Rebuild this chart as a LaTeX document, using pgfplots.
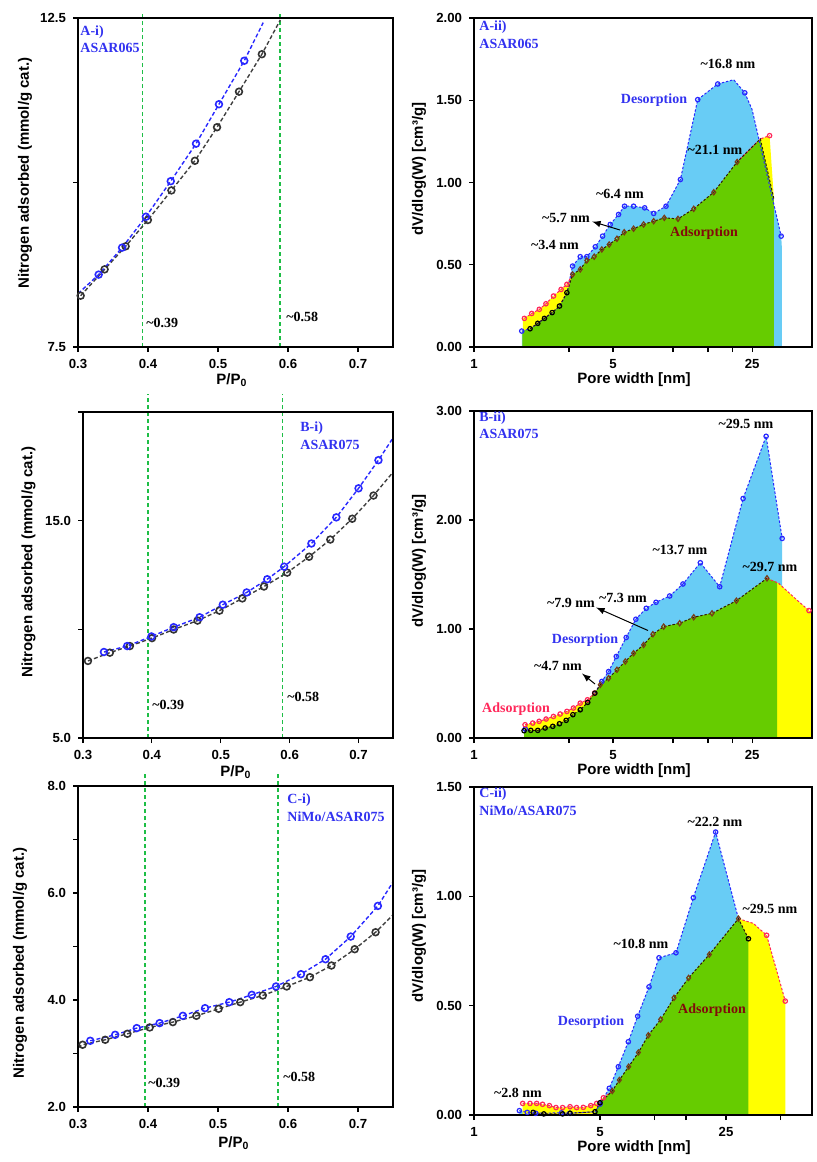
\documentclass[border=0pt]{standalone}
\usepackage{fontspec}
\setmainfont{Liberation Sans}
\newfontfamily\annserif{Liberation Serif}
\usepackage{pgfplots}
\pgfplotsset{compat=1.18}
\definecolor{mblue}{RGB}{40,40,255}
\definecolor{lblue}{RGB}{104,204,245}
\definecolor{lgreen}{RGB}{102,204,0}
\definecolor{lyellow}{RGB}{255,255,0}
\definecolor{mred}{RGB}{255,40,90}
\definecolor{mbrown}{RGB}{120,60,20}
\definecolor{dgreen}{RGB}{30,190,70}
\definecolor{tblue}{RGB}{50,50,240}
\definecolor{dred}{RGB}{130,10,10}
\newcommand{\ann}{\annserif\bfseries\fontsize{7}{8}\selectfont}
\newcommand{\axl}{\bfseries\fontsize{7.5}{8}\selectfont}
\pgfplotsset{
  basep/.style={scale only axis, anchor=south west, axis line style={line width=0.6pt},
    tick pos=left, tick align=outside, major tick length=2.5pt, minor tick length=0pt,
    tick style={black, line width=0.6pt},
    ticklabel style={font=\bfseries\fontsize{6.6}{7}\selectfont}, axis on top},
  lp/.style={basep, width=157.5pt, xmin=0.3, xmax=0.75, xtick={0.3,0.4,0.5,0.6,0.7},
    xticklabels={0.3,0.4,0.5,0.6,0.7}, clip=false},
  rp/.style={basep, width=169pt, ymin=0},
  vline/.style={color=dgreen, line width=0.9pt, dash pattern=on 2pt off 1.5pt},
  bline/.style={color=mblue, line width=0.7pt, dash pattern=on 2pt off 1.2pt},
  kline/.style={color=black!75, line width=0.7pt, dash pattern=on 2pt off 1.2pt},
  bmark/.style={only marks, mark=o, mark size=1.7pt, color=mblue, mark options={line width=0.8pt}},
  kmark/.style={only marks, mark=o, mark size=1.7pt, color=black!80, mark options={line width=0.8pt}},
  bfill/.style={draw=none, fill=lblue},
  yfill/.style={draw=none, fill=lyellow},
  gfill/.style={draw=none, fill=lgreen},
  rbline/.style={color=mblue, line width=0.5pt, dash pattern=on 1.2pt off 0.9pt},
  rrline/.style={color=mred, line width=0.5pt, dash pattern=on 1.2pt off 0.9pt},
  rkline/.style={color=black!60!mbrown, line width=0.5pt, dash pattern=on 1.2pt off 0.9pt},
  rbmark/.style={only marks, mark=o, mark size=1.1pt, color=mblue, mark options={line width=0.6pt}},
  rrmark/.style={only marks, mark=o, mark size=1.1pt, color=mred, mark options={line width=0.6pt}},
  rkmark/.style={only marks, mark=o, mark size=1.1pt, color=black, mark options={line width=0.6pt}},
  rdmark/.style={only marks, mark=diamond, mark size=1.3pt, color=mbrown, mark options={line width=0.6pt}},
}
\begin{document}
\begin{tikzpicture}
\path[use as bounding box] (0,0) rectangle (408.5pt,-581pt);

% ---------------- A-i
\begin{axis}[lp, at={(39pt,-173.5pt)}, height=164.5pt, ymin=7.5, ymax=12.5,
  ytick={7.5,10,12.5}, yticklabels={7.5,,12.5}]
\addplot[vline] coordinates {(0.392,7.5) (0.392,12.576)};
\addplot[vline] coordinates {(0.589,7.5) (0.589,12.576)};
\addplot[kline] coordinates {(0.3038,8.28) (0.338,8.68) (0.368,9.03) (0.3998,9.43) (0.4335,9.88) (0.467,10.33) (0.4986,10.84) (0.530,11.38) (0.5627,11.95) (0.589,12.47)};
\addplot[bline] coordinates {(0.3,8.31) (0.3295,8.60) (0.363,9.01) (0.397,9.48) (0.4325,10.02) (0.4686,10.59) (0.5014,11.19) (0.5375,11.85) (0.5646,12.43)};
\addplot[kmark] coordinates {(0.3038,8.28) (0.338,8.68) (0.368,9.03) (0.3998,9.43) (0.4335,9.88) (0.467,10.33) (0.4986,10.84) (0.530,11.38) (0.5627,11.95)};
\addplot[bmark] coordinates {(0.3295,8.60) (0.363,9.01) (0.397,9.48) (0.4325,10.02) (0.4686,10.59) (0.5014,11.19) (0.5375,11.85)};
\end{axis}

% ---------------- B-i
\begin{axis}[lp, at={(41.5pt,-369pt)}, width=155pt, height=163pt, ymin=5, ymax=20,
  ytick={5,10,15,20}, yticklabels={5.0,,15.0,}]
\addplot[vline] coordinates {(0.3945,5) (0.3945,20.83)};
\addplot[vline] coordinates {(0.5896,5) (0.5896,20.83)};
\addplot[kline] coordinates {(0.3072,8.546) (0.339,8.927) (0.368,9.231) (0.4002,9.597) (0.4316,9.992) (0.4663,10.403) (0.4981,10.86) (0.5313,11.423) (0.5627,11.971) (0.5964,12.61) (0.6282,13.341) (0.659,14.132) (0.6908,15.09) (0.7217,16.157) (0.7487,17.18)};
\addplot[bline] coordinates {(0.3304,8.957) (0.3641,9.231) (0.3993,9.673) (0.4316,10.10) (0.4692,10.556) (0.5029,11.134) (0.5376,11.697) (0.5675,12.306) (0.592,12.884) (0.6316,13.95) (0.6677,15.152) (0.70,16.49) (0.7289,17.785) (0.7487,18.744)};
\addplot[kmark] coordinates {(0.3072,8.546) (0.339,8.927) (0.368,9.231) (0.4002,9.597) (0.4316,9.992) (0.4663,10.403) (0.4981,10.86) (0.5313,11.423) (0.5627,11.971) (0.5964,12.61) (0.6282,13.341) (0.659,14.132) (0.6908,15.09) (0.7217,16.157)};
\addplot[bmark] coordinates {(0.3304,8.957) (0.3641,9.231) (0.3993,9.673) (0.4316,10.10) (0.4692,10.556) (0.5029,11.134) (0.5376,11.697) (0.5675,12.306) (0.592,12.884) (0.6316,13.95) (0.6677,15.152) (0.70,16.49) (0.7289,17.785)};
\end{axis}

% ---------------- C-i
\begin{axis}[lp, at={(39pt,-553.5pt)}, height=160.5pt, ymin=2, ymax=8,
  ytick={2,3,4,5,6,7,8}, yticklabels={2.0,,4.0,,6.0,,8.0}]
\addplot[vline] coordinates {(0.3957,2) (0.3957,8.243)};
\addplot[vline] coordinates {(0.5853,2) (0.5853,8.243)};
\addplot[kline] coordinates {(0.3,3.11) (0.3066,3.164) (0.3389,3.257) (0.3706,3.369) (0.4024,3.487) (0.4355,3.587) (0.4692,3.705) (0.5009,3.836) (0.5318,3.960) (0.564,4.085) (0.5981,4.253) (0.6313,4.427) (0.6621,4.645) (0.6953,4.950) (0.7251,5.267) (0.7498,5.59)};
\addplot[bline] coordinates {(0.3175,3.238) (0.3531,3.350) (0.3839,3.475) (0.4166,3.568) (0.4498,3.705) (0.4815,3.848) (0.5161,3.960) (0.5483,4.097) (0.5829,4.253) (0.6185,4.483) (0.6536,4.763) (0.6896,5.186) (0.7284,5.759) (0.7498,6.20)};
\addplot[kmark] coordinates {(0.3066,3.164) (0.3389,3.257) (0.3706,3.369) (0.4024,3.487) (0.4355,3.587) (0.4692,3.705) (0.5009,3.836) (0.5318,3.960) (0.564,4.085) (0.5981,4.253) (0.6313,4.427) (0.6621,4.645) (0.6953,4.950) (0.7251,5.267)};
\addplot[bmark] coordinates {(0.3175,3.238) (0.3531,3.350) (0.3839,3.475) (0.4166,3.568) (0.4498,3.705) (0.4815,3.848) (0.5161,3.960) (0.5483,4.097) (0.5829,4.253) (0.6185,4.483) (0.6536,4.763) (0.6896,5.186) (0.7284,5.759)};
\end{axis}

% ---------------- A-ii
\begin{axis}[xmode=log, rp, at={(237pt,-173.5pt)}, height=164.5pt, xmin=1, xmax=50, ymax=2,
  xtick={1,3,5,10,15,20,25}, xticklabels={1,,5,,,,25},
  ytick={0,0.5,1,1.5,2}, yticklabels={0.00,0.50,1.00,1.50,2.00}]
\addplot[bfill] coordinates {(1.738,0.097) (1.914,0.111) (2.092,0.144) (2.26,0.174) (2.47,0.209) (2.69,0.249) (2.93,0.330) (3.13,0.492) (3.42,0.549) (3.69,0.549) (4.07,0.609) (4.43,0.674) (4.84,0.745) (5.33,0.806) (5.71,0.856) (6.34,0.856) (7.21,0.846) (8.0,0.812) (9.23,0.856) (10.9,1.018) (13.32,1.504) (16.8,1.599) (20.2,1.625) (22.97,1.545) (25.0,1.443) (35.0,0.674) (35.3,0.6)} \closedcycle;
\addplot[yfill] coordinates {(1.76,0.172) (1.95,0.204) (2.13,0.229) (2.30,0.263) (2.51,0.310) (2.74,0.350) (2.93,0.381) (3.13,0.441) (3.42,0.472) (3.69,0.526) (4.02,0.549) (4.39,0.593) (4.78,0.623) (5.23,0.658) (5.69,0.698) (6.34,0.719) (7.12,0.745) (8.0,0.765) (9.05,0.785) (10.6,0.779) (12.72,0.840) (16.04,0.941) (21.02,1.125) (27.5,1.265) (30.6,1.285) (32.2,0.897)} \closedcycle;
\addplot[gfill] coordinates {(1.75,0.097) (1.914,0.111) (2.092,0.144) (2.26,0.174) (2.47,0.209) (2.69,0.249) (2.93,0.330) (3.13,0.441) (3.42,0.472) (3.69,0.526) (4.02,0.549) (4.39,0.593) (4.78,0.623) (5.23,0.658) (5.69,0.698) (6.34,0.719) (7.12,0.745) (8.0,0.765) (9.05,0.785) (10.6,0.779) (12.72,0.840) (16.04,0.941) (21.02,1.125) (27.5,1.265) (32.2,0.897)} \closedcycle;
\addplot[rbline] coordinates {(1.738,0.097) (1.914,0.111) (2.092,0.144) (2.26,0.174) (2.47,0.209) (2.69,0.249) (2.93,0.330) (3.13,0.492) (3.42,0.549) (3.69,0.549) (4.07,0.609) (4.43,0.674) (4.84,0.745) (5.33,0.806) (5.71,0.856) (6.34,0.856) (7.21,0.846) (8.0,0.812) (9.23,0.856) (10.9,1.018) (13.32,1.504) (16.8,1.599) (20.2,1.625) (22.97,1.545) (25.0,1.443) (35.0,0.674)};
\addplot[rrline] coordinates {(1.792,0.174) (1.95,0.204) (2.13,0.229) (2.30,0.263) (2.51,0.310) (2.74,0.350) (2.93,0.381) (3.13,0.441)};
\addplot[rrline] coordinates {(21.02,1.125) (27.5,1.265) (30.6,1.285)};
\addplot[rkline] coordinates {(1.914,0.111) (2.092,0.144) (2.26,0.174) (2.47,0.209) (2.69,0.249) (2.93,0.330) (3.13,0.441) (3.42,0.472) (3.69,0.526) (4.02,0.549) (4.39,0.593) (4.78,0.623) (5.23,0.658) (5.69,0.698) (6.34,0.719) (7.12,0.745) (8.0,0.765) (9.05,0.785) (10.6,0.779) (12.72,0.840) (16.04,0.941) (21.02,1.125) (27.5,1.265) (32.2,0.897)};
\addplot[rbmark] coordinates {(1.738,0.097) (3.13,0.492) (3.42,0.549) (3.69,0.549) (4.07,0.609) (4.43,0.674) (4.84,0.745) (5.33,0.806) (5.71,0.856) (6.34,0.856) (7.21,0.846) (8.0,0.812) (9.23,0.856) (10.9,1.018) (13.32,1.504) (16.8,1.599) (22.97,1.545) (35.0,0.674)};
\addplot[rrmark] coordinates {(1.792,0.174) (1.95,0.204) (2.13,0.229) (2.30,0.263) (2.51,0.310) (2.74,0.350) (2.93,0.381) (30.6,1.285)};
\addplot[rkmark] coordinates {(1.914,0.111) (2.092,0.144) (2.26,0.174) (2.47,0.209) (2.69,0.249) (2.93,0.330)};
\addplot[rdmark] coordinates {(3.13,0.441) (3.42,0.472) (3.69,0.526) (4.02,0.549) (4.39,0.593) (4.78,0.623) (5.23,0.658) (5.69,0.698) (6.34,0.719) (7.12,0.745) (8.0,0.765) (9.05,0.785) (10.6,0.779) (12.72,0.840) (16.04,0.941) (21.02,1.125)};
\end{axis}

% ---------------- B-ii
\begin{axis}[xmode=log, rp, at={(237pt,-369pt)}, height=163.5pt, xmin=1, xmax=50, ymax=3,
  xtick={1,3,5,10,15,20,25}, xticklabels={1,,5,,,,25},
  ytick={0,1,2,3}, yticklabels={0.00,1.00,2.00,3.00}]
\addplot[bfill] coordinates {(1.81,0.082) (2.092,0.070) (2.489,0.107) (2.905,0.162) (3.42,0.259) (4.05,0.412) (4.39,0.519) (4.75,0.610) (5.19,0.748) (5.82,0.922) (6.51,1.090) (7.34,1.190) (8.22,1.245) (9.63,1.303) (11.23,1.413) (13.73,1.608) (17.18,1.388) (22.52,2.197) (29.4,2.768) (35.4,1.831)} \closedcycle;
\addplot[yfill] coordinates {(1.806,0.122) (1.974,0.137) (2.125,0.153) (2.304,0.174) (2.508,0.198) (2.71,0.220) (2.93,0.244) (3.16,0.275) (3.42,0.320) (3.72,0.351) (4.04,0.412) (4.31,0.488) (4.75,0.549) (5.23,0.626) (5.76,0.702) (6.34,0.778) (7.12,0.854) (7.93,0.952) (8.98,1.022) (10.81,1.053) (12.72,1.108) (15.72,1.144) (20.84,1.260) (29.7,1.465) (34.0,1.419) (42.0,1.266) (48.3,1.169) (50,1.14)} \closedcycle;
\addplot[gfill] coordinates {(1.785,0.067) (1.929,0.070) (2.092,0.070) (2.278,0.092) (2.489,0.107) (2.689,0.131) (2.905,0.162) (3.14,0.214) (3.42,0.259) (3.73,0.327) (4.05,0.412) (4.31,0.488) (4.75,0.549) (5.23,0.626) (5.76,0.702) (6.34,0.778) (7.12,0.854) (7.93,0.952) (8.98,1.022) (10.81,1.053) (12.72,1.108) (15.72,1.144) (20.84,1.260) (29.7,1.465) (33.4,1.43)} \closedcycle;
\addplot[rbline] coordinates {(4.05,0.412) (4.39,0.519) (4.75,0.610) (5.19,0.748) (5.82,0.922) (6.51,1.090) (7.34,1.190) (8.22,1.245) (9.63,1.303) (11.23,1.413) (13.73,1.608) (17.18,1.388) (22.52,2.197) (29.4,2.768) (35.4,1.831)};
\addplot[rrline] coordinates {(1.806,0.122) (1.974,0.137) (2.125,0.153) (2.304,0.174) (2.508,0.198) (2.71,0.220) (2.93,0.244) (3.16,0.275) (3.42,0.320) (3.72,0.351) (4.04,0.412)};
\addplot[rrline] coordinates {(29.7,1.465) (34.0,1.419) (42.0,1.266) (48.3,1.169) (50,1.14)};
\addplot[rkline] coordinates {(1.785,0.067) (1.929,0.070) (2.092,0.070) (2.278,0.092) (2.489,0.107) (2.689,0.131) (2.905,0.162) (3.14,0.214) (3.42,0.259) (3.73,0.327) (4.05,0.412) (4.31,0.488) (4.75,0.549) (5.23,0.626) (5.76,0.702) (6.34,0.778) (7.12,0.854) (7.93,0.952) (8.98,1.022) (10.81,1.053) (12.72,1.108) (15.72,1.144) (20.84,1.260) (29.7,1.465)};
\addplot[rbmark] coordinates {(1.81,0.082) (4.39,0.519) (4.75,0.610) (5.19,0.748) (5.82,0.922) (6.51,1.090) (7.34,1.190) (8.22,1.245) (9.63,1.303) (11.23,1.413) (13.73,1.608) (17.18,1.388) (22.52,2.197) (29.4,2.768) (35.4,1.831)};
\addplot[rrmark] coordinates {(1.806,0.122) (1.974,0.137) (2.125,0.153) (2.304,0.174) (2.508,0.198) (2.71,0.220) (2.93,0.244) (3.16,0.275) (3.42,0.320) (3.72,0.351) (4.04,0.412) (48.3,1.169)};
\addplot[rkmark] coordinates {(1.785,0.067) (1.929,0.070) (2.092,0.070) (2.278,0.092) (2.489,0.107) (2.689,0.131) (2.905,0.162) (3.14,0.214) (3.42,0.259) (3.73,0.327) (4.05,0.412)};
\addplot[rdmark] coordinates {(4.31,0.488) (4.75,0.549) (5.23,0.626) (5.76,0.702) (6.34,0.778) (7.12,0.854) (7.93,0.952) (8.98,1.022) (10.81,1.053) (12.72,1.108) (15.72,1.144) (20.84,1.260) (29.7,1.465)};
\end{axis}

% ---------------- C-ii
\begin{axis}[xmode=log, rp, at={(237pt,-557.5pt)}, height=164pt, xmin=1, xmax=75, ymax=1.5,
  xtick={1,5,10,15,25,50}, xticklabels={1,5,,,25,},
  ytick={0,0.5,1,1.5}, yticklabels={0.00,0.50,1.00,1.50}]
\addplot[bfill] coordinates {(1.785,0.020) (1.976,0.012) (2.2,0.008) (3.06,0.010) (3.4,0.008) (4.7,0.015) (5.0,0.050) (5.63,0.122) (6.32,0.221) (7.18,0.335) (8.09,0.452) (9.35,0.586) (10.62,0.719) (13.2,0.742) (16.47,0.994) (21.9,1.294) (29.3,0.898)} \closedcycle;
\addplot[yfill] coordinates {(1.862,0.053) (2.045,0.053) (2.226,0.053) (2.40,0.049) (2.62,0.043) (2.85,0.034) (3.10,0.034) (3.41,0.038) (3.71,0.034) (4.04,0.035) (4.44,0.043) (4.79,0.053) (5.22,0.079) (5.85,0.110) (6.40,0.160) (7.21,0.221) (8.16,0.286) (9.27,0.365) (10.85,0.437) (12.87,0.536) (15.51,0.627) (20.2,0.734) (29.3,0.898) (35.5,0.876) (42.0,0.822) (53.3,0.521)} \closedcycle;
\addplot[gfill] coordinates {(4.69,0.015) (5.0,0.056) (5.85,0.110) (6.40,0.160) (7.21,0.221) (8.16,0.286) (9.27,0.365) (10.85,0.437) (12.87,0.536) (15.51,0.627) (20.2,0.734) (29.3,0.898) (33.3,0.806)} \closedcycle;
\addplot[rbline] coordinates {(1.785,0.020) (1.976,0.012) (2.2,0.008) (3.06,0.010) (3.4,0.008) (4.7,0.015) (5.0,0.050) (5.63,0.122) (6.32,0.221) (7.18,0.335) (8.09,0.452) (9.35,0.586) (10.62,0.719) (13.2,0.742) (16.47,0.994) (21.9,1.294) (29.3,0.898)};
\addplot[rrline] coordinates {(1.862,0.053) (2.045,0.053) (2.226,0.053) (2.40,0.049) (2.62,0.043) (2.85,0.034) (3.10,0.034) (3.41,0.038) (3.71,0.034) (4.04,0.035) (4.44,0.043) (4.79,0.053) (5.22,0.079) (5.85,0.110)};
\addplot[rrline] coordinates {(29.3,0.898) (35.5,0.876) (42.0,0.822) (53.3,0.521)};
\addplot[rkline] coordinates {(2.13,0.012) (2.44,0.005) (3.10,0.005) (3.41,0.008) (4.69,0.015) (5.0,0.056) (5.85,0.110) (6.40,0.160) (7.21,0.221) (8.16,0.286) (9.27,0.365) (10.85,0.437) (12.87,0.536) (15.51,0.627) (20.2,0.734) (29.3,0.898) (33.3,0.806)};
\addplot[rbmark] coordinates {(1.785,0.020) (1.976,0.012) (2.2,0.008) (3.06,0.010) (3.4,0.008) (5.0,0.050) (5.63,0.122) (6.32,0.221) (7.18,0.335) (8.09,0.452) (9.35,0.586) (10.62,0.719) (13.2,0.742) (16.47,0.994) (21.9,1.294)};
\addplot[rrmark] coordinates {(1.862,0.053) (2.045,0.053) (2.226,0.053) (2.40,0.049) (2.62,0.043) (2.85,0.034) (3.10,0.034) (3.41,0.038) (3.71,0.034) (4.04,0.035) (4.44,0.043) (4.79,0.053) (5.22,0.079) (42.0,0.822) (53.3,0.521)};
\addplot[rkmark] coordinates {(2.13,0.012) (2.44,0.005) (3.10,0.005) (3.41,0.008) (4.69,0.015) (5.0,0.056) (33.3,0.806)};
\addplot[rdmark] coordinates {(5.85,0.110) (6.40,0.160) (7.21,0.221) (8.16,0.286) (9.27,0.365) (10.85,0.437) (12.87,0.536) (15.51,0.627) (20.2,0.734) (29.3,0.898)};
\end{axis}

% ---------------- texts (pixel coordinates of the reference)
\begin{scope}[x=0.5pt,y=-0.5pt]
\node[rotate=90, font=\axl] at (25,173) {Nitrogen adsorbed (mmol/g cat.)};
\node[rotate=90, font=\axl] at (28.5,562) {Nitrogen adsorbed (mmol/g cat.)};
\node[rotate=90, font=\axl] at (20,963) {Nitrogen adsorbed (mmol/g cat.)};
\node[font=\axl] at (232,380) {P/P\textsubscript{0}};
\node[font=\axl] at (236,772) {P/P\textsubscript{0}};
\node[font=\axl] at (234,1143) {P/P\textsubscript{0}};
\node[rotate=90, font=\axl] at (419,169) {dV/dlog(W) [cm³/g]};
\node[rotate=90, font=\axl] at (419,561) {dV/dlog(W) [cm³/g]};
\node[rotate=90, font=\axl] at (419,936) {dV/dlog(W) [cm³/g]};
\node[font=\axl] at (634,380) {Pore width [nm]};
\node[font=\axl] at (634,771) {Pore width [nm]};
\node[font=\axl] at (634,1148) {Pore width [nm]};
\node[font=\ann, text=tblue, anchor=west, inner sep=0pt] at (80,32) {A-i)};
\node[font=\ann, text=tblue, anchor=west, inner sep=0pt] at (80,48) {ASAR065};
\node[font=\ann, text=tblue, anchor=west, inner sep=0pt] at (300,428) {B-i)};
\node[font=\ann, text=tblue, anchor=west, inner sep=0pt] at (300,445) {ASAR075};
\node[font=\ann, text=tblue, anchor=west, inner sep=0pt] at (287,800) {C-i)};
\node[font=\ann, text=tblue, anchor=west, inner sep=0pt] at (287,817) {NiMo/ASAR075};
\node[font=\ann, text=tblue, anchor=west, inner sep=0pt] at (479,27.5) {A-ii)};
\node[font=\ann, text=tblue, anchor=west, inner sep=0pt] at (479,44) {ASAR065};
\node[font=\ann, text=tblue, anchor=west, inner sep=0pt] at (479,418) {B-ii)};
\node[font=\ann, text=tblue, anchor=west, inner sep=0pt] at (479,434) {ASAR075};
\node[font=\ann, text=tblue, anchor=west, inner sep=0pt] at (479,794) {C-ii)};
\node[font=\ann, text=tblue, anchor=west, inner sep=0pt] at (479,811) {NiMo/ASAR075};
\node[font=\ann, anchor=west, inner sep=0pt] at (146,323) {\textasciitilde0.39};
\node[font=\ann, anchor=west, inner sep=0pt] at (286,317) {\textasciitilde0.58};
\node[font=\ann, anchor=west, inner sep=0pt] at (152,705) {\textasciitilde0.39};
\node[font=\ann, anchor=west, inner sep=0pt] at (287,697) {\textasciitilde0.58};
\node[font=\ann, anchor=west, inner sep=0pt] at (148,1083) {\textasciitilde0.39};
\node[font=\ann, anchor=west, inner sep=0pt] at (283,1077) {\textasciitilde0.58};
\node[font=\ann] at (728,64) {\textasciitilde16.8 nm};
\node[font=\ann, text=tblue] at (654,100) {Desorption};
\node[font=\ann] at (715,150) {\textasciitilde21.1 nm};
\node[font=\ann] at (620,194) {\textasciitilde6.4 nm};
\node[font=\ann] at (566,218) {\textasciitilde5.7 nm};
\draw[-latex, line width=0.5pt] (620,230) -- (592,221.5);
\node[font=\ann, text=dred] at (704,233.5) {Adsorption};
\node[font=\ann] at (555,245) {\textasciitilde3.4 nm};
\node[font=\ann] at (746,424) {\textasciitilde29.5 nm};
\node[font=\ann] at (680,550) {\textasciitilde13.7 nm};
\node[font=\ann] at (770,567) {\textasciitilde29.7 nm};
\node[font=\ann] at (571,603) {\textasciitilde7.9 nm};
\node[font=\ann] at (623,598) {\textasciitilde7.3 nm};
\draw[-latex, line width=0.5pt] (648,630.5) -- (596,607.5);
\node[font=\ann, text=tblue] at (585,640) {Desorption};
\node[font=\ann] at (558,666) {\textasciitilde4.7 nm};
\draw[-latex, line width=0.5pt] (595,684) -- (582,673.5);
\node[font=\ann, text=mred] at (516,709) {Adsorption};
\node[font=\ann] at (715,822) {\textasciitilde22.2 nm};
\node[font=\ann] at (770,909) {\textasciitilde29.5 nm};
\node[font=\ann] at (641,944) {\textasciitilde10.8 nm};
\node[font=\ann, text=tblue] at (591,1022) {Desorption};
\node[font=\ann, text=dred] at (712,1010) {Adsorption};
\node[font=\ann] at (518,1093) {\textasciitilde2.8 nm};
\end{scope}
\end{tikzpicture}
\end{document}
